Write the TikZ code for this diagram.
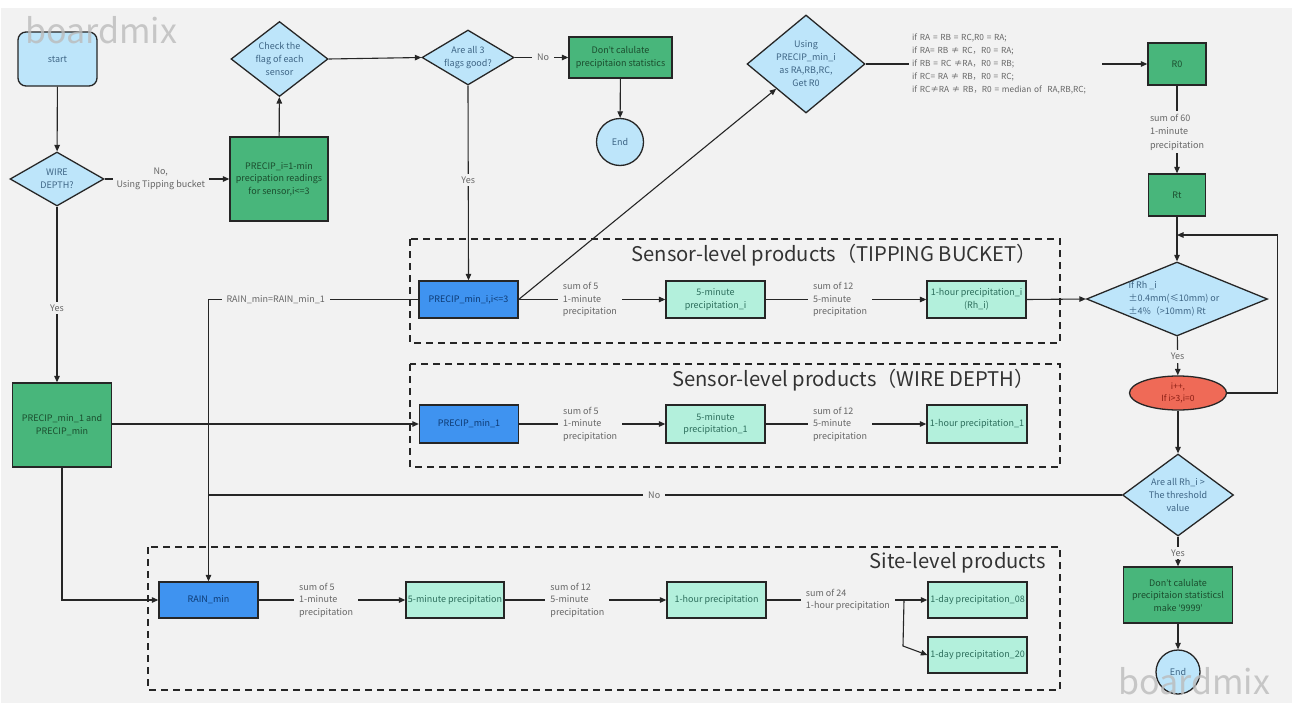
\documentclass[tikz,border=0pt]{standalone}
\usepackage{fontspec}
\setmainfont{Noto Sans CJK SC}
\newfontfamily\latf{Lato}
\usetikzlibrary{shapes.geometric,arrows.meta}
\definecolor{bg}{HTML}{F2F2F2}
\definecolor{lb}{HTML}{BDE5FA}
\definecolor{lbtxt}{HTML}{3E6585}
\definecolor{grn}{HTML}{48B67B}
\definecolor{grntxt}{HTML}{1B4D2E}
\definecolor{blu}{HTML}{3F93F0}
\definecolor{blutxt}{HTML}{0D3A73}
\definecolor{tea}{HTML}{B3F0DC}
\definecolor{teatxt}{HTML}{2D6E5C}
\definecolor{redf}{HTML}{EF6A57}
\definecolor{redtxt}{HTML}{8A1E14}
\definecolor{edge}{HTML}{262626}
\definecolor{labc}{HTML}{666666}
\definecolor{ttl}{HTML}{333333}
\definecolor{wmc}{HTML}{BBBBBB}
\newcommand\fsn{\fontsize{9}{12.5}\selectfont}
\newcommand\fsc{\fontsize{9}{13}\selectfont}
% narrow quote marks (the CJK face sets them full width)
\newcommand\apo{{\latf ’}}
\newcommand\squo{{\latf ‘}}
\begin{document}
\begin{tikzpicture}[x=1pt,y=-1pt,
  shape box/.style={draw=edge,line width=1.3pt,inner sep=1pt,align=center,font=\fsn},
  gbox/.style={shape box,fill=grn,text=grntxt},
  bbox/.style={shape box,fill=blu,text=blutxt,minimum width=99,minimum height=37},
  tbox/.style={shape box,fill=tea,text=teatxt,minimum width=99,minimum height=37},
  rbox/.style={shape box,fill=lb,text=lbtxt,rounded corners=8pt},
  dia/.style={diamond,draw=edge,line width=1.3pt,fill=lb,inner sep=0pt},
  dtxt/.style={align=center,font=\fsc,text=lbtxt,inner sep=0pt},
  endc/.style={circle,draw=edge,line width=1.3pt,fill=lb,text=lbtxt,font=\fsn,inner sep=0pt},
  conn/.style={draw=edge,line width=1.1pt},
  arr/.style={conn,-{Triangle[length=6.5pt,width=5.5pt]}},
  lbl/.style={fill=bg,text=labc,font=\fsn,align=left,inner xsep=5pt,inner ysep=1pt},
  yes/.style={fill=bg,text=labc,font=\fsn,inner xsep=2pt,inner ysep=3pt},
  dbox/.style={draw=edge,line width=1.5pt,dash pattern=on 7pt off 5pt},
  title/.style={font=\fontsize{20.2}{22}\selectfont,text=ttl,inner sep=0pt},
  wm/.style={font=\fontsize{34}{34}\selectfont,text=wmc,opacity=0.8,inner sep=0pt}]

% canvas
\useasboundingbox (0,0) rectangle (1293,707);
\fill[white] (0,0) rectangle (1293,707);
\fill[bg] (1,8) rectangle (1292,703);

% product frames
\draw[dbox] (410,239) rectangle (1060,343);
\draw[dbox] (410,364) rectangle (1060,467);
\draw[dbox] (148,547) rectangle (1060,690);
\node[title,anchor=east] (t1) at (1037,255) {Sensor-level products（TIPPING BUCKET）};
\node[title,anchor=east] (t2) at (1035,380) {Sensor-level products（WIRE DEPTH）};
\node[title,anchor=east] (t3) at (1046,563) {Site-level products};

% start and sensor checks
\node[rbox,minimum width=79,minimum height=54] (start) at (57.5,59) {start};
\node[dia,minimum width=94,minimum height=54,label={[dtxt]center:WIRE\\DEPTH?}] (wire) at (57,179) {};
\node[gbox,minimum width=98,minimum height=84] (prei) at (279,179) {PRECIP\_i=1-min\\precipation readings\\for sensor,i<=3};
\node[dia,minimum width=97,minimum height=75,label={[dtxt]center:Check the\\flag of each\\sensor}] (check) at (279.5,59) {};
\node[dia,minimum width=92,minimum height=55,label={[dtxt]center:Are all 3\\flags good?}] (all3) at (468,57.5) {};
\node[gbox,minimum width=103,minimum height=41] (dont1) at (620.5,57.5) {Don\apo t calulate\\precipitaion statistics};
\node[endc,minimum size=47] (end1) at (620,142) {End};

% median of the three sensors
\node[dia,minimum width=118,minimum height=98,label={[dtxt]center:Using\\PRECIP\_min\_i\\as RA,RB,RC,\\Get R0}] (using) at (806,64) {};
\node[fill=bg,text=labc,font=\fontsize{8.3}{13}\selectfont,align=left,text width=187pt,inner xsep=3pt,inner ysep=2pt,anchor=west] (cond) at (909,64)
  {if RA = RB = RC,R0 = RA;\\
   if RA= RB ≠ RC，R0 = RA;\\
   if RB = RC ≠RA，R0 = RB;\\
   if RC= RA ≠ RB，R0 = RC;\\
   if RC≠RA ≠ RB，R0 = median of\ \ RA,RB,RC;};
\node[gbox,minimum width=58,minimum height=42] (r0) at (1177,64) {R0};
\node[gbox,minimum width=57,minimum height=42] (rt) at (1177,195) {Rt};
\coordinate (rhin) at (1177,235);
\node[dia,minimum width=181,minimum height=74,label={[dtxt,align=left,xshift=-3pt]center:If Rh \_i\\±0.4mm(≤10mm) or\\±4\%（>10mm) Rt}] (rh) at (1177,299) {};
\node[ellipse,draw=edge,line width=1.3pt,fill=redf,text=redtxt,font=\fontsize{8.5}{12.5}\selectfont,align=center,inner sep=0pt,minimum width=97,minimum height=34] (inc) at (1178,393) {i++,\\If i>3,i=0};
\node[dia,minimum width=111,minimum height=82,label={[dtxt]center:Are all Rh\_i >\\The threshold\\value}] (thr) at (1178,495) {};
\node[gbox,minimum width=109,minimum height=56] (dont2) at (1178,595) {Don\apo t calulate\\precipitaion statisticsl\\make \squo 9999\apo};
\node[endc,minimum size=44] (end2) at (1178,672) {End};

% wire depth input
\node[gbox,minimum width=99,minimum height=84] (pmboth) at (62,425) {PRECIP\_min\_1 and\\PRECIP\_min};

% sensor-level chain, tipping bucket
\node[bbox] (pmi) at (468.5,299.5) {PRECIP\_min\_i,i<=3};
\node[tbox] (fivei) at (715.5,299.5) {5-minute\\precipitation\_i};
\node[tbox] (hri) at (976.5,299.5) {1-hour precipitation\_i\\(Rh\_i)};
% sensor-level chain, wire depth
\node[bbox,minimum height=38] (pm1) at (469,424) {PRECIP\_min\_1};
\node[tbox,minimum height=38] (five1) at (715.5,424) {5-minute\\precipitation\_1};
\node[tbox,minimum height=38,minimum width=100] (hr1) at (977,424) {1-hour precipitation\_1};
% site-level chain
\node[bbox,minimum height=36] (rainmin) at (208.5,600) {RAIN\_min};
\node[tbox,minimum height=36,minimum width=98] (fives) at (455,600) {5-minute precipitation};
\node[tbox,minimum height=36] (hrs) at (716.5,600) {1-hour precipitation};
\node[tbox,minimum height=36] (d08) at (977.5,600) {1-day precipitation\_08};
\node[tbox,minimum height=36] (d20) at (977.5,655) {1-day precipitation\_20};

% connectors: top row
\draw[arr] (start) -- (wire);
\draw[arr] (wire.east) -- node[yes,align=center,pos=0.45,inner xsep=4pt] {No,\\Using Tipping bucket} (prei.west);
\draw[arr] (prei) -- (check);
\draw[arr] (check.east) -- (all3.west);
\draw[arr] (all3.east) -- node[yes,pos=0.53,inner xsep=5pt] {No} (dont1.west);
\draw[arr] (dont1) -- (end1);
\draw[arr] (all3.south) -- node[yes,pos=0.485] {Yes} (pmi.north);
\draw[arr] (pmi.east) -- (using.south west);
\draw[conn] (using.east) -- (cond.west);
\draw[arr] (cond.east) -- (r0.west);
\draw[arr] (r0) -- node[lbl,pos=0.53,inner xsep=2pt,inner ysep=3pt,font=\fontsize{9}{13.5}\selectfont] {sum of 60\\1-minute\\precipitation} (rt);
\draw[arr] (rt) -- (rh);
\draw[arr] (inc.east) -- ++(50,0) |- (rhin);
\draw[arr] (rh) -- node[yes,pos=0.52] {Yes} (inc);
\draw[arr] (inc) -- (thr);
\draw[arr] (thr) -- node[yes,pos=0.55] {Yes} (dont2);
\draw[arr] (dont2) -- (end2);

% connectors: left column
\draw[arr] (wire.south) -- node[yes,pos=0.576] {Yes} (wire.south |- pmboth.north);
\draw[arr] (pmboth.east |- pm1.west) -- (pm1.west);
\draw[arr] (pmboth.south) |- (rainmin.west);
\draw[arr] (pmi.west) -- node[yes,pos=0.68,inner xsep=5pt] {RAIN\_min=RAIN\_min\_1} (rainmin.north |- pmi.west) -- (rainmin.north);
\draw[conn] (thr.west) -- node[yes,pos=0.512,inner xsep=5pt] {No} (rainmin.north |- thr.west);

% connectors: product chains
\draw[arr] (pmi.east) -- node[lbl,pos=0.486] {sum of 5\\1-minute\\precipitation} (fivei.west);
\draw[arr] (fivei.east) -- node[lbl,pos=0.463] {sum of 12\\5-minute\\precipitation} (hri.west);
\draw[arr] (hri.east) -- (rh.west);
\draw[arr] (pm1.east) -- node[lbl,pos=0.486] {sum of 5\\1-minute\\precipitation} (five1.west);
\draw[arr] (five1.east) -- node[lbl,pos=0.463] {sum of 12\\5-minute\\precipitation} (hr1.west);
\draw[arr] (rainmin.east) -- node[lbl,pos=0.46] {sum of 5\\1-minute\\precipitation} (fives.west);
\draw[arr] (fives.east) -- node[lbl,pos=0.45] {sum of 12\\5-minute\\precipitation} (hrs.west);
\draw[arr] (hrs.east) -- node[lbl,pos=0.506] {sum of 24\\1-hour precipitation} (d08.west);
\coordinate (brk) at (904,600);
\coordinate (bend) at (903,646);
\draw[arr] (brk) -- (bend) -- (d20.west);

% watermarks
\node[wm,anchor=base west] (wm1) at (25,43) {boardmix};
\node[wm,anchor=base west] (wm2) at (1118,694) {boardmix};
\end{tikzpicture}
\end{document}
